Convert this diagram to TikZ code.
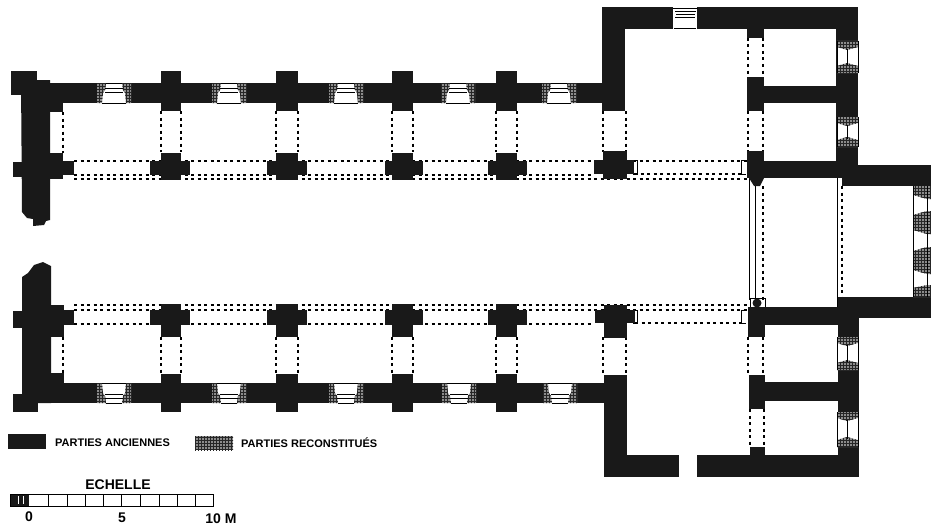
\documentclass[tikz,border=0pt]{standalone}
\usepackage{fontspec}
\setmainfont{Liberation Sans}
\usetikzlibrary{patterns}

\begin{document}
\begin{tikzpicture}[x=1pt,y=-1pt,
    wall/.style={fill=black!90},
    restored/.style={fill=black!45,postaction={pattern=grid,pattern color=black!85}},
    ghost/.style={draw,line width=1.1pt,dash pattern=on 3pt off 3.5pt},
    thin line/.style={draw,line width=0.7pt},
    legend text/.style={inner sep=0pt,anchor=west,font=\fontsize{11}{13}\selectfont\bfseries},
    scale text/.style={inner sep=0pt,font=\fontsize{14}{16}\selectfont\bfseries}]

  \useasboundingbox (0,0) rectangle (931,527);

  % traces of vaults
  \path[ghost] (74,161) -- (747,161) (74,175) -- (594,175) (74,179) -- (747,179)
        (634,174) -- (741,174)
        (74,305) -- (747,305) (74,310) -- (747,310) (74,324) -- (594,324)
        (635,323) -- (741,323);
  \path[ghost] (63,112) -- (63,153) (63,337) -- (63,373);
  \foreach \pl/\pr in {161/181,276/298,392/413,496/517,603/626,748/763} {
    \path[ghost] (\pl,111) -- (\pl,152) (\pr,111) -- (\pr,152);
    \path[ghost] (\pl,337) -- (\pl,375) (\pr,337) -- (\pr,375);
  }
  \path[ghost] (748,38) -- (748,77) (763,38) -- (763,77)
        (750,409) -- (750,447) (764,409) -- (764,447)
        (763,186) -- (763,300) (842,186) -- (842,297);

  % thin walls of the choir arches
  \path[thin line] (749,178) -- (749,300) (755,178) -- (755,300)
        (837,178) -- (837,307)
        (750,298) rectangle (765,307)
        (633,160) rectangle (637,174) (741,160) -- (746,160) (741,160) -- (741,174) -- (746,174)
        (633,310) rectangle (637,323) (741,310) -- (746,310) (741,310) -- (741,323) -- (746,323);

  % west front
  \fill[wall] (11,71) rectangle (37,95);
  \fill[wall] (21,80) -- (50,80) -- (50,220) -- (46,221) -- (44,225) -- (33,226) -- (33,219) -- (27,218) -- (22,212) -- cycle;
  \fill[wall] (13,162) rectangle (30,177);
  \fill[wall] (40,153) rectangle (63,179);
  \fill[wall] (40,161) rectangle (74,175);
  \fill[wall] (40,100) rectangle (63,112);
  \fill[wall] (22,403) -- (22,277) -- (28,273) -- (34,265) -- (43,262) -- (51,266) -- (51,403) -- cycle;
  \fill[wall] (13,394) rectangle (38,412);
  \fill[wall] (13,311) rectangle (30,328);
  \fill[wall] (40,305) rectangle (64,337);
  \fill[wall] (40,310) rectangle (74,325);
  \fill[wall] (40,373) rectangle (64,385);

  % aisle walls
  \fill[wall] (30,83) rectangle (606,103);
  \fill[wall] (30,383) rectangle (608,403);

  % piers and buttresses
  \foreach \pl/\pr/\hl/\hr in {161/181/150/190,276/298/267/307,392/413/385/423,496/517/488/527} {
    \fill[wall] (\pl,71) rectangle (\pr,111);
    \fill[wall] (\pl,153) rectangle (\pr,180);
    \fill[wall] (\hl,161) rectangle (\hr,175);
    \fill[wall] (\pl,304) rectangle (\pr,337);
    \fill[wall] (\hl,310) rectangle (\hr,325);
    \fill[wall] (\pl,374) rectangle (\pr,412);
  }
  \fill[wall] (603,151) rectangle (627,179);
  \fill[wall] (594,160) rectangle (634,174);
  \fill[wall] (604,305) rectangle (627,338);
  \fill[wall] (595,310) rectangle (635,323);

  % transept and chapels
  \fill[wall] (602,7) rectangle (858,29);
  \fill[wall] (602,7) rectangle (625,111);
  \fill[wall] (747,29) rectangle (764,38);
  \fill[wall] (747,77) rectangle (764,111);
  \fill[wall] (764,86) rectangle (836,103);
  \fill[wall] (836,7) rectangle (858,165);
  \fill[wall] (747,151) rectangle (764,178);
  \fill[wall] (764,161) rectangle (858,178);
  \fill[wall] (749,178) -- (764,178) -- (760,186) -- (754,186) -- cycle;
  \fill[wall] (842,165) rectangle (931,186);
  \fill[wall] (604,375) rectangle (627,477);
  \fill[wall] (604,455) rectangle (679,477);
  \fill[wall] (697,455) rectangle (859,477);
  \fill[wall] (750,447) rectangle (765,455);
  \fill[wall] (749,375) rectangle (765,409);
  \fill[wall] (765,382) rectangle (838,401);
  \fill[wall] (838,297) rectangle (859,477);
  \fill[wall] (748,307) rectangle (765,337);
  \fill[wall] (765,307) rectangle (838,325);
  \fill[wall] (842,297) rectangle (931,318);
  \fill[wall] (757,303) circle (4.5);

  % windows of the aisles
  \foreach \wx/\wy/\wf in {114/93/1,229/93/1,346/93/1,458/93/1,559/93/1,114/393/-1,229/393/-1,346/393/-1,459/393/-1,560/393/-1} {
    \begin{scope}[shift={(\wx,\wy)},yscale=\wf]
      \fill[white] (-12,-10) rectangle (12,10);
      \path[restored] (-17,-10) -- (-8,-10) -- (-9,-3) -- (-11,0) -- (-12,10) -- (-17,10) -- cycle;
      \path[restored] (17,-10) -- (8,-10) -- (9,-3) -- (11,0) -- (12,10) -- (17,10) -- cycle;
      \path[thin line] (-8,-10) -- (8,-10) (-9,-5) -- (9,-5) (-9,-1) -- (9,-1) (-12,10) -- (12,10);
    \end{scope}
  }

  % windows of the chapels
  \foreach \wt/\wb in {41/73,117/147,337/370,412/447} {
    \fill[white] (837,\wt) rectangle (858,\wb);
    \path[restored] (837,\wt) -- (858,\wt) -- (858,\wt+6) -- (847,\wt+9) -- (837,\wt+6) -- cycle;
    \path[restored] (837,\wb) -- (858,\wb) -- (858,\wb-7) -- (847,\wb-10) -- (837,\wb-7) -- cycle;
    \path[thin line] (837,\wt) -- (837,\wb) (858,\wt) -- (858,\wb) (847,\wt+8) -- (847,\wb-8);
  }

  % window of the transept
  \fill[white] (673,7) rectangle (697,29);
  \path[thin line] (673,8) -- (698,8) (675,11) -- (696,11) (676,14) -- (695,14) (675,17) -- (695,17) (674,28) -- (696,28);

  % east end of the choir
  \fill[white] (913,186) rectangle (931,297);
  \path[restored] (913,186) -- (931,186) -- (931,199) -- (927,199) -- (913,195) -- cycle;
  \path[restored] (913,215) -- (927,211) -- (931,211) -- (931,234) -- (927,234) -- (913,230) -- cycle;
  \path[restored] (913,251) -- (927,247) -- (931,247) -- (931,274) -- (927,274) -- (913,270) -- cycle;
  \path[restored] (913,288) -- (927,285) -- (931,285) -- (931,297) -- (913,297) -- cycle;
  \path[thin line] (913,186) -- (913,297) (927,186) -- (927,297);

  % legend
  \fill[wall] (8,434) rectangle (46,449);
  \path[restored] (195,436) rectangle (233,450);
  \node[legend text] (anciennes) at (55,443) {PARTIES ANCIENNES};
  \node[legend text] (reconstitues) at (241,443) {PARTIES RECONSTITUÉS};

  % scale
  \node[scale text] (echelle) at (118,485) {ECHELLE};
  \fill[wall] (10,494) rectangle (29,506);
  \fill[white] (17.5,496) rectangle (19,504);
  \fill[white] (22.5,496) rectangle (24,504);
  \draw[line width=0.9pt] (10,494) rectangle (213,506);
  \foreach \tx in {48,67,85,103,121,140,159,177,195}
    \draw[line width=0.9pt] (\tx,494) -- (\tx,506);
  \node[scale text] (zero) at (29,517) {0};
  \node[scale text] (five) at (122,518) {5};
  \node[scale text] (ten) at (221,519) {10 M};
\end{tikzpicture}
\end{document}
